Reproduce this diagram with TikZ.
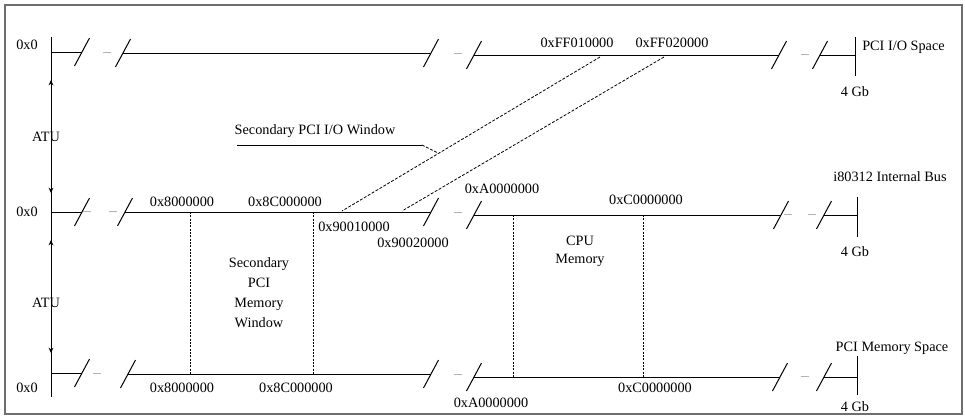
\documentclass[tikz,border=0pt]{standalone}
\usepackage{fontspec}
\setmainfont{Liberation Serif}
\usetikzlibrary{arrows.meta,positioning}
\definecolor{ink}{HTML}{000000}
\definecolor{rim}{HTML}{6E6E6E}
\tikzset{
  lbl/.style={font=\fontsize{10.7}{12}\selectfont,text=ink,inner sep=0pt,align=center},
  bus/.style={draw=ink,line width=.75pt},
  gapdots/.style={font=\fontsize{6}{7}\selectfont,text=ink,inner sep=0pt,anchor=base},
  ar/.style={{Stealth[length=4pt,width=3.6pt]}-{Stealth[length=4pt,width=3.6pt]},draw=ink,line width=.75pt},
  win/.style={draw=ink,line width=.6pt,dash pattern=on 2.2pt off 1.2pt},
  bound/.style={draw=ink,line width=.7pt,dash pattern=on 1.6pt off .9pt},
}

\begin{document}
\begin{tikzpicture}[x=.75pt,y=-.75pt]
  \useasboundingbox (0,0) rectangle (965,419);
  \draw[rim,line width=1.1pt] (5,5) rectangle (962,414);

  % left axis with the two ATU arrows
  \coordinate (axtop) at (51,37); \coordinate (axbot) at (51,397);
  \draw[bus] (axtop) -- (axbot);
  \coordinate (atuA1) at (51,80);  \coordinate (atuA2) at (51,193);
  \coordinate (atuB1) at (51,240); \coordinate (atuB2) at (51,353);
  \draw[ar] (atuA1) -- (atuA2);
  \draw[ar] (atuB1) -- (atuB2);
  \node[lbl] (atuA) at (46,137) {ATU};
  \node[lbl] (atuB) at (46,303) {ATU};
  \node[lbl] (zeroio) at (27,45) {0x0};
  \node[lbl] (zerobus) at (27,212) {0x0};
  \node[lbl] (zeromem) at (27,388) {0x0};

  % the three address lines, broken twice
  \draw[bus] (51,52) -- (82,52) (123,53) -- (431,53) (474,55) -- (779,55) (820,55) -- (855,55);
  \draw[bus] (51,212) -- (82,212) (125,212) -- (431,212) (474,215) -- (781,215) (824,215) -- (857,215);
  \draw[bus] (51,373) -- (82,373) (128,374) -- (431,374) (474,377) -- (780,377) (824,377) -- (857,377);
  \foreach \x/\y in {82/52,123/53,431/53,474/55,779/55,820/55,
                     82/212,125/212,431/212,474/215,781/215,824/215,
                     82/373,128/374,431/374,474/377,780/377,824/377}
    \draw[bus] (\x-7.5,\y+14) -- (\x+7.5,\y-14);
  \foreach \x/\y in {107/53,458/54,805/55,
                     87/212,113/212,458/213,788/215,812/215,
                     97/374,458/375,805/377}
    \node[gapdots] at (\x,\y) {....};

  % 4 Gb ends
  \draw[bus] (855,37) -- (855,76);
  \draw[bus] (857,197) -- (857,237);
  \draw[bus] (857,356) -- (857,395);
  \node[lbl,anchor=west] (iospace) at (862,47) {PCI I/O Space};
  \node[lbl] (busname) at (890,177) {i80312 Internal Bus};
  \node[lbl] (memspace) at (892,348) {PCI Memory Space};
  \node[lbl] (endio) at (855,92) {4 Gb};
  \node[lbl] (endbus) at (855,252) {4 Gb};
  \node[lbl] (endmem) at (855,407) {4 Gb};

  % PCI I/O window
  \node[lbl] (ioA) at (577,43) {0xFF010000};
  \node[lbl] (ioB) at (672,43) {0xFF020000};
  \node[lbl] (busioA) at (354,227) {0x90010000};
  \node[lbl] (busioB) at (413,243) {0x90020000};
  \coordinate (ioAx) at (600,57); \coordinate (ioBx) at (664,57);
  \coordinate (busioAx) at (342,211); \coordinate (busioBx) at (402,211);
  \draw[win] (ioAx) -- (busioAx);
  \draw[win] (ioBx) -- (busioBx);
  \node[lbl] (iowin) at (315,131) {Secondary PCI I/O Window};
  \coordinate (leadA) at (237,145); \coordinate (leadB) at (422,145);
  \coordinate (leadC) at (438,153);
  \draw[bus] (leadA) -- (leadB);
  \draw[win] (leadB) -- (leadC);

  % memory windows
  \node[lbl] (busA) at (182,202) {0x8000000};
  \node[lbl] (busB) at (285,202) {0x8C000000};
  \node[lbl] (busC) at (502,189) {0xA0000000};
  \node[lbl] (busD) at (646,200) {0xC0000000};
  \node[lbl] (memA) at (182,388) {0x8000000};
  \node[lbl] (memB) at (296,388) {0x8C000000};
  \node[lbl] (memC) at (491,403) {0xA0000000};
  \node[lbl] (memD) at (655,388) {0xC0000000};
  \draw[bound] (190,212) -- (190,374);
  \draw[bound] (313,212) -- (313,374);
  \draw[bound] (513,215) -- (513,377);
  \draw[bound] (643,215) -- (643,377);
  \node[lbl,font=\fontsize{10.7}{15}\selectfont] (memwin) at (259,293) {Secondary\\PCI\\Memory\\Window};
  \node[lbl,font=\fontsize{10.7}{13.5}\selectfont] (cpumem) at (580,251) {CPU\\Memory};
\end{tikzpicture}
\end{document}
